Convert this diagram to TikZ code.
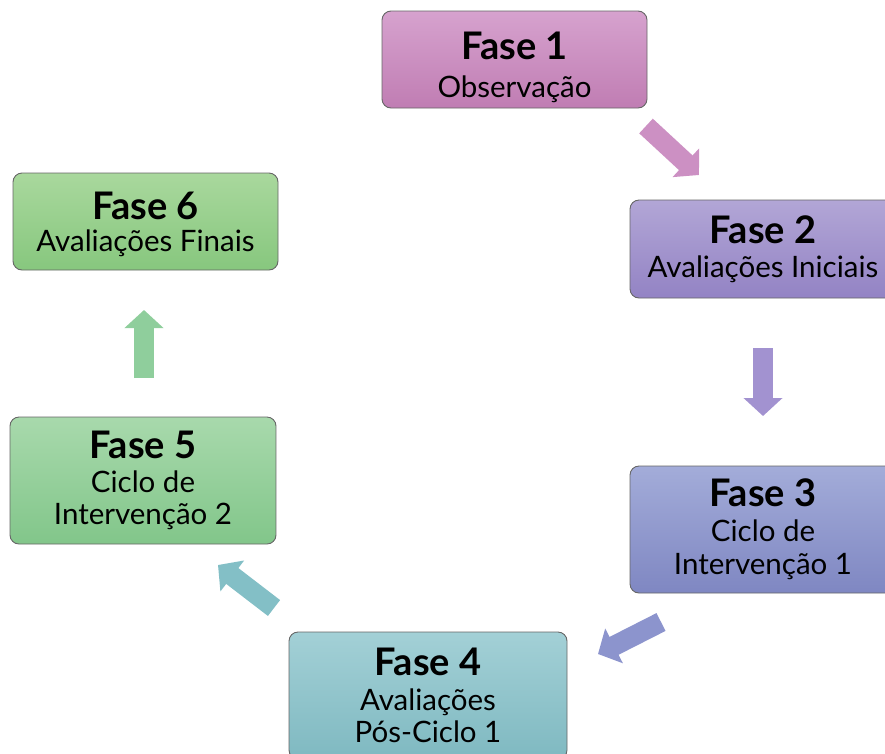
\documentclass[tikz,border=0pt]{standalone}
\usepackage{fontspec}
\setmainfont{Lato}
\usetikzlibrary{arrows.meta,shadings}
\definecolor{bOneT}{HTML}{D6A2CE}\definecolor{bOneB}{HTML}{C07DB3}
\definecolor{bTwoT}{HTML}{B2A6D6}\definecolor{bTwoB}{HTML}{9383C4}
\definecolor{bThrT}{HTML}{A3ACD9}\definecolor{bThrB}{HTML}{7F87C2}
\definecolor{bFouT}{HTML}{A3D0D6}\definecolor{bFouB}{HTML}{7FB9C1}
\definecolor{bFivT}{HTML}{A8D9AC}\definecolor{bFivB}{HTML}{82C68A}
\definecolor{bSixT}{HTML}{A9D89D}\definecolor{bSixB}{HTML}{87C77E}
\definecolor{aOne}{HTML}{CC90C3}
\definecolor{aTwo}{HTML}{A292D0}
\definecolor{aThr}{HTML}{8C94CD}
\definecolor{aFou}{HTML}{83BFC6}
\definecolor{aFiv}{HTML}{8FCE9C}
\newcommand{\hfont}{\fontsize{38}{34}\selectfont\bfseries}
\newcommand{\rfont}{\fontsize{29.5}{34}\selectfont}
\tikzset{
  phase/.style={rectangle, rounded corners=9pt, draw=black!60, line width=0.9pt,
    align=center, inner sep=0pt, font=\rfont},
  blockarrow/.style={line width=20pt, -{Triangle[length=18pt,width=38pt]}},
}
\begin{document}
\begin{tikzpicture}[x=1pt,y=-1pt]
\useasboundingbox (0,0) rectangle (885,753);
\clip (0,0) rectangle (885,753);
\node[phase, top color=bOneT, bottom color=bOneB, minimum width=265pt, minimum height=97pt] (f1) at (514.5,59.5)
  {\rule{0pt}{44pt}{\hfont Fase 1}\\[4pt]{\rfont Observação}};
\node[phase, top color=bTwoT, bottom color=bTwoB, minimum width=266pt, minimum height=98pt] (f2) at (763,249)
  {{\hfont Fase 2}\\[0pt]{\rfont Avaliações Iniciais}};
\node[phase, top color=bThrT, bottom color=bThrB, minimum width=266pt, minimum height=127pt] (f3) at (763,529.5)
  {{\hfont Fase 3}\\[1pt]{\rfont Ciclo de}\\[-1pt]{\rfont Intervenção 1}};
\node[phase, top color=bFouT, bottom color=bFouB, minimum width=278pt, minimum height=127pt] (f4) at (428,695.5)
  {{\hfont Fase 4}\\[1pt]{\rfont Avaliações}\\[-2pt]{\rfont Pós-Ciclo 1}};
\node[phase, top color=bFivT, bottom color=bFivB, minimum width=266pt, minimum height=127pt] (f5) at (143,480.5)
  {{\hfont Fase 5}\\[0pt]{\rfont Ciclo de}\\[-2pt]{\rfont Intervenção 2}};
\node[phase, top color=bSixT, bottom color=bSixB, minimum width=265pt, minimum height=97pt] (f6) at (145.5,221.5)
  {\rule{0pt}{33pt}{\hfont Fase 6}\\[-2pt]{\rfont Avaliações Finais}};
\coordinate (a12s) at (646,126); \coordinate (a12e) at (699,175);
\coordinate (a23s) at (763,348); \coordinate (a23e) at (763,416);
\coordinate (a34s) at (661,622); \coordinate (a34e) at (598,654);
\coordinate (a45s) at (274,608); \coordinate (a45e) at (218,565);
\coordinate (a56s) at (144,378); \coordinate (a56e) at (144,310);
\draw[blockarrow, draw=aOne] (a12s) -- (a12e);
\draw[blockarrow, draw=aTwo] (a23s) -- (a23e);
\draw[blockarrow, draw=aThr] (a34s) -- (a34e);
\draw[blockarrow, draw=aFou] (a45s) -- (a45e);
\draw[blockarrow, draw=aFiv] (a56s) -- (a56e);
\end{tikzpicture}
\end{document}
